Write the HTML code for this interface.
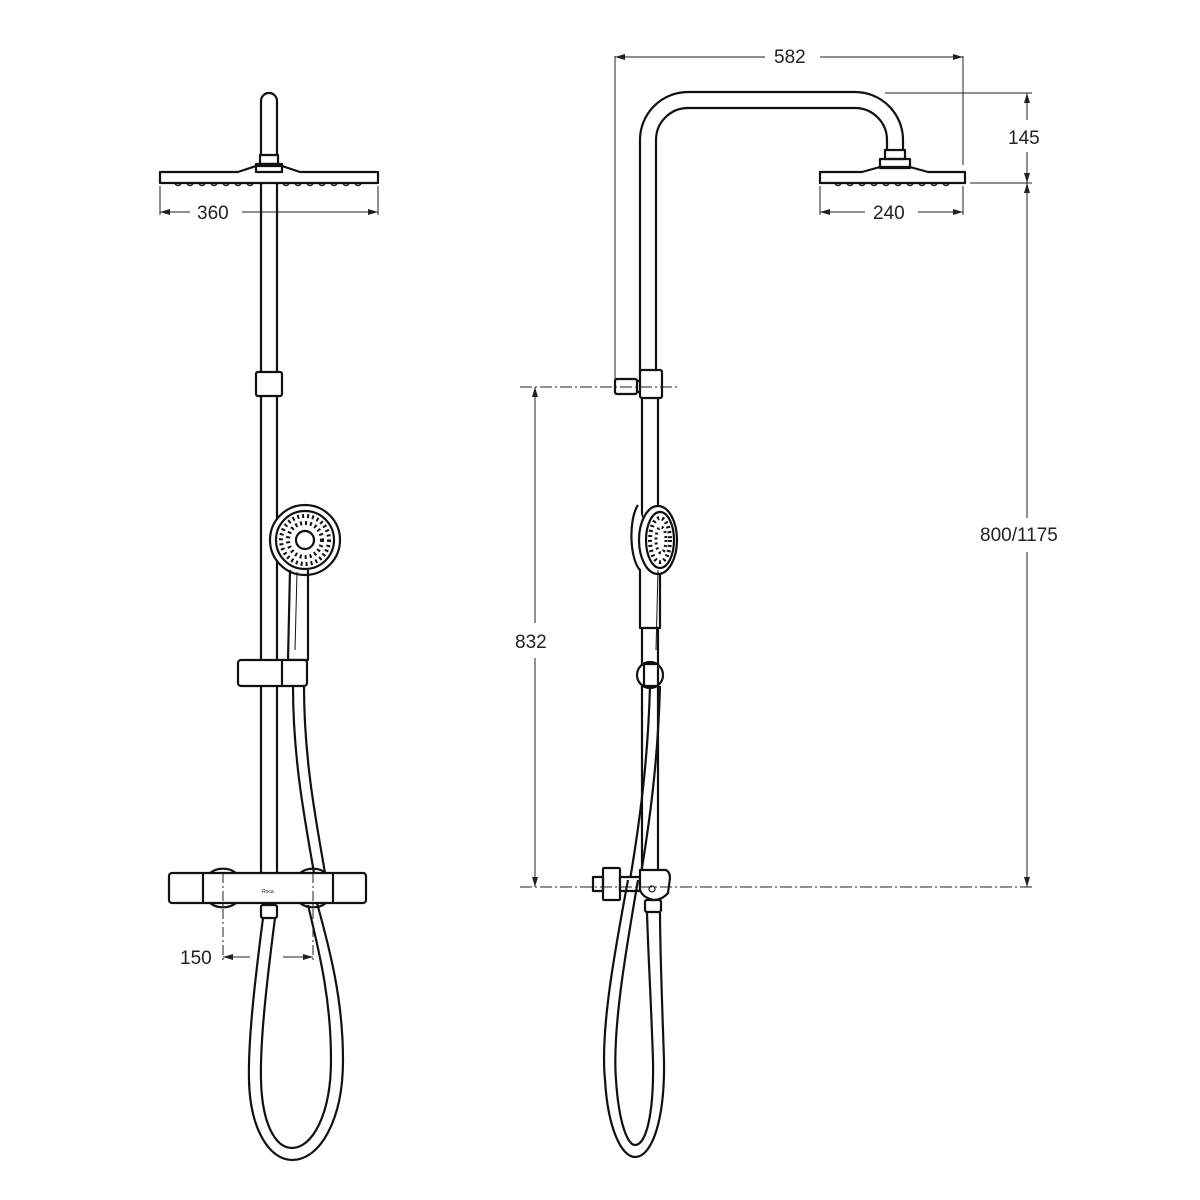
<!DOCTYPE html>
<html><head><style>
html,body{margin:0;padding:0;background:#fff;}
svg{display:block}
text{font-family:"Liberation Sans",sans-serif;font-size:19px;fill:#222;}
</style></head><body>
<svg width="1200" height="1200" viewBox="0 0 1200 1200" xmlns="http://www.w3.org/2000/svg">
<defs>
<marker id="ar" viewBox="0 0 10 6" refX="10" refY="3" markerWidth="10" markerHeight="6" orient="auto-start-reverse" markerUnits="userSpaceOnUse"><path d="M0,0 L10,3 L0,6 z" fill="#222"/></marker>
</defs>
<g fill="none" stroke="#111" stroke-width="2.2" stroke-linejoin="round">
<!-- LEFT VIEW -->
<path d="M261,155 L261,101 A8,8 0 0 1 277,101 L277,155"/>
<rect x="260" y="155" width="18" height="9"/>
<rect x="256" y="164" width="26" height="8"/>
<path d="M160,172 L238,172 L256,166 L282,166 L300,172 L378,172 L378,183 L160,183 Z"/>
<path d="M175,184 q3,3 6,0 M187,184 q3,3 6,0 M199,184 q3,3 6,0 M211,184 q3,3 6,0 M223,184 q3,3 6,0 M235,184 q3,3 6,0 M247,184 q3,3 6,0 M283,184 q3,3 6,0 M295,184 q3,3 6,0 M307,184 q3,3 6,0 M319,184 q3,3 6,0 M331,184 q3,3 6,0 M343,184 q3,3 6,0 M355,184 q3,3 6,0" stroke-width="1.3"/>
<line x1="261" y1="183" x2="261" y2="873"/>
<line x1="277" y1="183" x2="277" y2="873"/>
<rect x="256" y="372" width="26" height="24" rx="2" fill="#fff"/>
<!-- hand shower left -->
<circle cx="305" cy="540" r="35" fill="#fff"/>
<circle cx="305" cy="540" r="29"/>
<circle cx="305" cy="540" r="24" stroke-width="4" stroke-dasharray="2,3"/>
<circle cx="305" cy="540" r="17" stroke-width="4" stroke-dasharray="2,3"/>
<circle cx="305" cy="540" r="9"/>
<path d="M290,570 L288,660 L308,660 L308,570"/>
<path d="M297,572 L295,650" stroke-width="1"/>
<rect x="238" y="660" width="69" height="26" rx="3" fill="#fff"/>
<line x1="282" y1="660" x2="282" y2="686"/>
<path d="M293,686 C293,760 305,820 314,873"/>
<path d="M304,686 C304,760 316,820 325,873"/>
<!-- thermostat -->
<rect x="169" y="873" width="197" height="30" rx="3" fill="#fff"/>
<line x1="203" y1="873" x2="203" y2="903"/>
<line x1="333" y1="873" x2="333" y2="903"/>
<path d="M210,873 A18,14 0 0 1 236,873 M210,903 A18,14 0 0 0 236,903"/>
<path d="M300,873 A18,14 0 0 1 326,873 M300,903 A18,14 0 0 0 326,903"/>
<rect x="261" y="905" width="16" height="13" rx="2"/>
<path d="M263,918 C255,980 248,1040 249,1080 C250,1130 270,1160 292,1160 C320,1160 343,1120 343,1060 C343,1000 330,950 317,903"/>
<path d="M275,918 C267,980 260,1040 261,1080 C262,1125 276,1148 292,1148 C312,1148 331,1115 331,1060 C331,1000 320,955 308,905"/>
</g>
<text x="262" y="893" style="font-size:5px">Roca</text>
<g stroke="#222" stroke-width="1" fill="none">
<line x1="160" y1="186" x2="160" y2="215"/><line x1="378" y1="186" x2="378" y2="215"/>
<line x1="160" y1="212" x2="190" y2="212" marker-start="url(#ar)"/>
<line x1="242" y1="212" x2="378" y2="212" marker-end="url(#ar)"/>
<line x1="223" y1="873" x2="223" y2="960" stroke-dasharray="10,3,2,3"/>
<line x1="313" y1="873" x2="313" y2="960" stroke-dasharray="10,3,2,3"/>
<line x1="223" y1="957" x2="250" y2="957" marker-start="url(#ar)"/>
<line x1="283" y1="957" x2="313" y2="957" marker-end="url(#ar)"/>
</g>
<text x="197" y="219">360</text>
<text x="180" y="964">150</text>

<!-- RIGHT VIEW -->
<g fill="none" stroke="#111" stroke-width="2.2" stroke-linejoin="round">
<path d="M640,375 L640,140 A48,48 0 0 1 688,92 L855,92 A48,48 0 0 1 903,140 L903,150"/>
<path d="M656,375 L656,140 A32,32 0 0 1 688,108 L855,108 A32,32 0 0 1 887,140 L887,150"/>
<rect x="885" y="150" width="20" height="9"/>
<rect x="880" y="159" width="30" height="9"/>
<path d="M820,172 L862,172 L880,167 L910,167 L928,172 L965,172 L965,183 L820,183 Z"/>
<path d="M835,184 q3,3 6,0 M847,184 q3,3 6,0 M859,184 q3,3 6,0 M871,184 q3,3 6,0 M883,184 q3,3 6,0 M895,184 q3,3 6,0 M907,184 q3,3 6,0 M919,184 q3,3 6,0 M931,184 q3,3 6,0 M943,184 q3,3 6,0" stroke-width="1.3"/>
<line x1="642" y1="398" x2="642" y2="870"/>
<line x1="658" y1="398" x2="658" y2="870"/>
<rect x="640" y="370" width="22" height="28" rx="2" fill="#fff"/>
<rect x="615" y="379" width="22" height="15" rx="2" fill="#fff"/>
<line x1="637" y1="381" x2="640" y2="381"/><line x1="637" y1="392" x2="640" y2="392"/>
<path d="M638,505 C628,520 630,560 640,570 L640,628 L660,628 L660,570" fill="#fff"/>
<ellipse cx="658" cy="540" rx="19" ry="34" fill="#fff"/>
<ellipse cx="660" cy="540" rx="14" ry="28"/>
<ellipse cx="660" cy="540" rx="10" ry="22" stroke-width="4" stroke-dasharray="2,3"/>
<ellipse cx="661" cy="540" rx="5" ry="13" stroke-width="3" stroke-dasharray="2,3"/>
<path d="M658,570 L656,650" stroke-width="1"/>
<circle cx="650" cy="675" r="13" fill="#fff"/>
<rect x="644" y="664" width="14" height="22" fill="#fff"/>
<path d="M650,686 C648,760 640,820 630,880"/>
<path d="M660,686 C658,760 650,820 640,880"/>
<rect x="603" y="868" width="17" height="32" rx="1" fill="#fff"/>
<rect x="593" y="877" width="10" height="14"/>
<rect x="620" y="877" width="20" height="14" fill="#fff"/>
<path d="M640,876 L640,870 L666,870 Q670,872 670,878 L668,893 Q662,900 654,900 Q643,898 640,890 Z" fill="#fff"/>
<circle cx="652" cy="889" r="3" stroke-width="1.2"/>
<rect x="645" y="900" width="16" height="12" rx="2"/>
<path d="M628,880 C615,950 600,1030 605,1080 C608,1130 622,1157 635,1157 C652,1157 665,1120 664,1060 C662,1000 660,950 660,912"/>
<path d="M638,880 C626,950 612,1030 616,1080 C619,1125 628,1145 635,1145 C646,1145 654,1115 653,1060 C651,1000 648,950 647,912"/>
</g>
<g stroke="#222" stroke-width="1" fill="none">
<line x1="615" y1="56" x2="615" y2="380"/>
<line x1="963" y1="56" x2="963" y2="165"/>
<line x1="615" y1="57" x2="765" y2="57" marker-start="url(#ar)"/>
<line x1="820" y1="57" x2="963" y2="57" marker-end="url(#ar)"/>
<line x1="885" y1="93" x2="1032" y2="93"/>
<line x1="970" y1="183" x2="1032" y2="183"/>
<line x1="1027" y1="93" x2="1027" y2="120" marker-start="url(#ar)"/>
<line x1="1027" y1="152" x2="1027" y2="183" marker-end="url(#ar)"/>
<line x1="1027" y1="183" x2="1027" y2="518" marker-start="url(#ar)"/>
<line x1="1027" y1="552" x2="1027" y2="887" marker-end="url(#ar)"/>
<line x1="820" y1="186" x2="820" y2="215"/><line x1="963" y1="186" x2="963" y2="215"/>
<line x1="820" y1="212" x2="865" y2="212" marker-start="url(#ar)"/>
<line x1="918" y1="212" x2="963" y2="212" marker-end="url(#ar)"/>
<line x1="520" y1="387" x2="680" y2="387" stroke-dasharray="12,3,2,3"/>
<line x1="520" y1="887" x2="1032" y2="887" stroke-dasharray="12,3,2,3"/>
<line x1="535" y1="387" x2="535" y2="623" marker-start="url(#ar)"/>
<line x1="535" y1="658" x2="535" y2="887" marker-end="url(#ar)"/>
</g>
<text x="774" y="63">582</text>
<text x="1008" y="144">145</text>
<text x="873" y="219">240</text>
<text x="980" y="541">800/1175</text>
<text x="515" y="648">832</text>
</svg>
</body></html>
